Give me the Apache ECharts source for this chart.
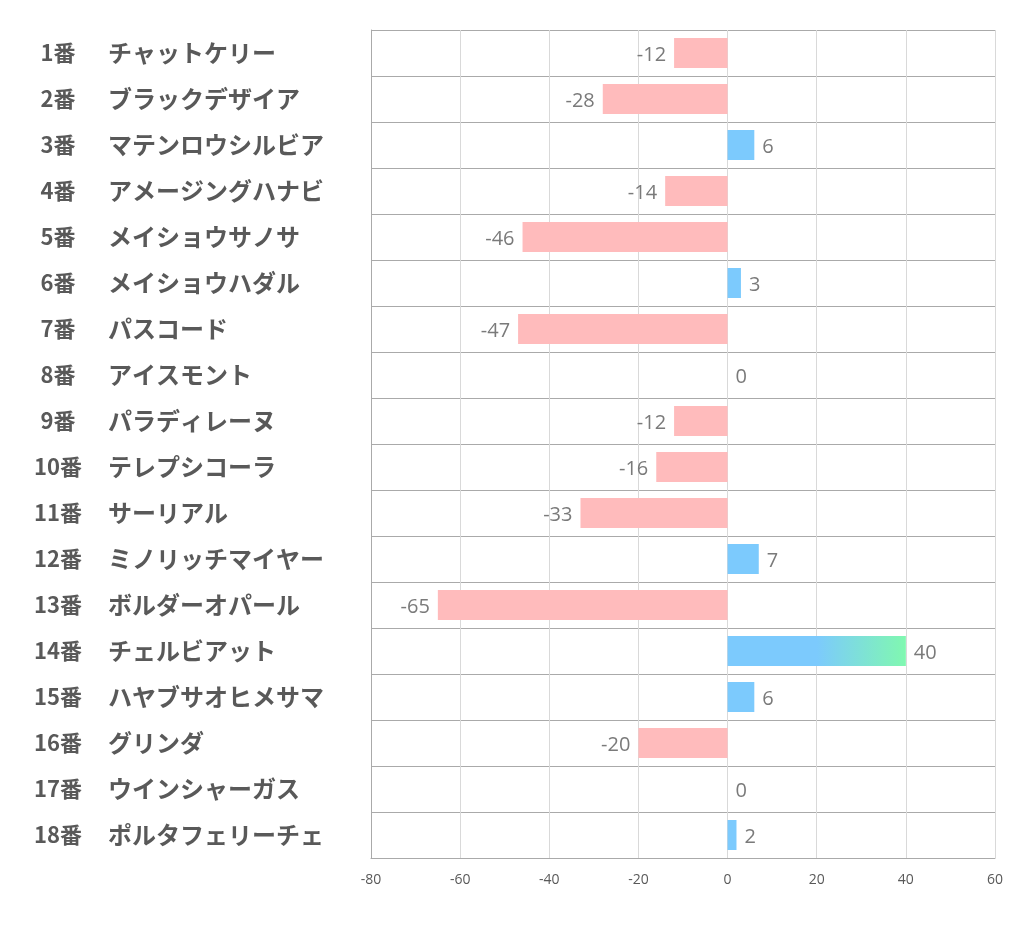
<!DOCTYPE html>
<html><head><meta charset="utf-8">
<script src="https://cdn.jsdelivr.net/npm/echarts@6/dist/echarts.min.js"></script>
<style>html,body{margin:0;padding:0;background:#fff}#c{width:1022px;height:939px}</style>
</head><body><div id="c"></div>
<script>
const numbers = ['1番','2番','3番','4番','5番','6番','7番','8番','9番','10番','11番','12番','13番','14番','15番','16番','17番','18番'];
const names = ['チャットケリー','ブラックデザイア','マテンロウシルビア','アメージングハナビ','メイショウサノサ','メイショウハダル','パスコード','アイスモント','パラディレーヌ','テレプシコーラ','サーリアル','ミノリッチマイヤー','ボルダーオパール','チェルビアット','ハヤブサオヒメサマ','グリンダ','ウインシャーガス','ポルタフェリーチェ'];
const values = [-12,-28,6,-14,-46,3,-47,0,-12,-16,-33,7,-65,40,6,-20,0,2];
const xTicks = [-80,-60,-40,-20,0,20,40,60];

const cats = numbers.map((n,i)=>n+'|'+names[i]);
const maxV = Math.max(...values);
const jp = '"Noto Sans CJK JP", sans-serif';
const data = values.map(v=>{
  let color;
  if (v < 0) color = '#ffbbbc';
  else if (v === maxV) color = new echarts.graphic.LinearGradient(0,0,1,0,[{offset:0,color:'#7ccafd'},{offset:0.5,color:'#7ccafd'},{offset:1,color:'#80f8b0'}]);
  else color = '#7ccafd';
  return {value:v, itemStyle:{color}, label:{position: v<0?'left':'right'}};
});

const chart = echarts.init(document.getElementById('c'));
chart.setOption({
  animation:false,
  grid:{left:371, right:27, top:30, bottom:81, containLabel:false},
  xAxis:{type:'value', min:xTicks[0], max:xTicks[xTicks.length-1], interval:20,
    axisLine:{show:true,lineStyle:{color:'#aaaaaa'}}, axisTick:{show:false},
    splitLine:{show:true,lineStyle:{color:'#d9d9d9'}},
    axisLabel:{color:'#595959', fontSize:14, margin:15, fontFamily:'"Open Sans", sans-serif'}},
  yAxis:{type:'category', data:cats, inverse:true,
    axisLine:{show:true,onZero:false,lineStyle:{color:'#aaaaaa'}}, axisTick:{show:false},
    splitLine:{show:true,lineStyle:{color:'#aaaaaa'}},
    axisLabel:{align:'left', margin:341,
      formatter:(v)=>{const p=v.split('|');return '{n|'+p[0]+'}{s|}{m|'+p[1]+'}';},
      rich:{
        n:{width:56, align:'right', fontSize:22, fontWeight:'bold', color:'#595959', fontFamily:jp},
        s:{width:22},
        m:{align:'left', fontSize:24, fontWeight:'bold', color:'#595959', fontFamily:jp}
      }}},
  series:[{type:'bar', data, barWidth:30,
    label:{show:true, color:'#7a7a7a', fontSize:20, distance:8, offset:[0,2], fontFamily:'"Open Sans", sans-serif'}}]
});
</script></body></html>
